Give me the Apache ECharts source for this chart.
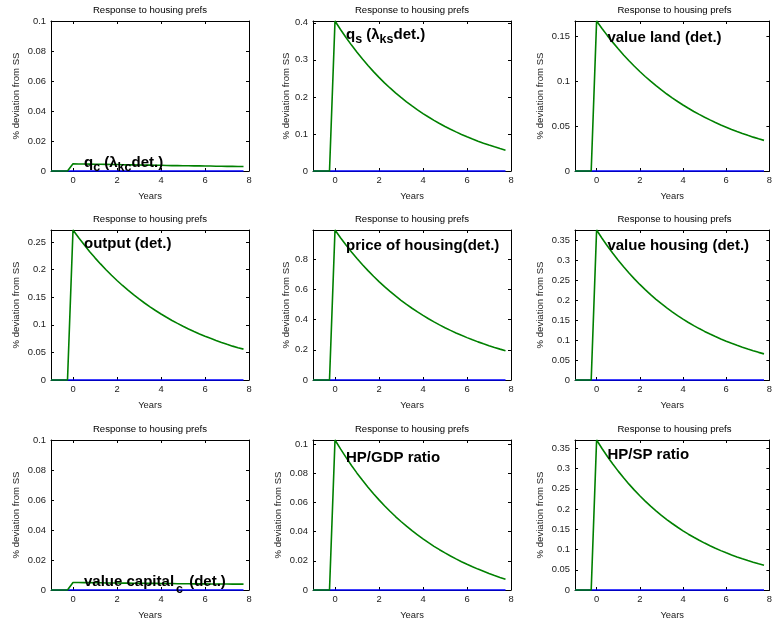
<!DOCTYPE html>
<html><head><meta charset="utf-8">
<script src="https://cdn.jsdelivr.net/npm/echarts@6.0.0/dist/echarts.min.js"></script>
<style>html,body{margin:0;padding:0;background:#fff}#c{width:775px;height:624px}</style>
</head><body><div id="c"></div>
<script>
// ---- data ----
const years = [-1,-0.75,-0.5,-0.25,0,0.25,0.5,0.75,1,1.25,1.5,1.75,2,2.25,2.5,2.75,3,3.25,3.5,3.75,4,4.25,4.5,4.75,5,5.25,5.5,5.75,6,6.25,6.5,6.75,7,7.25,7.5,7.75];
const xTicks = [0,2,4,6,8];
const titleText = 'Response to housing prefs';
const xName = 'Years';
const yName = '% deviation from SS';

const baseline = [0,0,0,0,0,0,0,0,0,0,0,0,0,0,0,0,0,0,0,0,0,0,0,0,0,0,0,0,0,0,0,0,0,0,0,0];

const qcDet = [0,0,0,0,0.0048,0.0047,0.0047,0.0046,0.0045,0.0045,0.0044,0.0043,0.0043,0.0042,0.0041,0.0041,0.0040,0.0039,0.0039,0.0038,0.0038,0.0037,0.0036,0.0036,0.0035,0.0035,0.0034,0.0034,0.0033,0.0033,0.0032,0.0032,0.0031,0.0031,0.0030,0.0030];
const qsDet = [0,0,0,0,0.405,0.3821,0.3604,0.3399,0.3205,0.3022,0.2848,0.2684,0.2528,0.2381,0.2242,0.2110,0.1986,0.1868,0.1757,0.1651,0.1551,0.1457,0.1367,0.1283,0.1203,0.1128,0.1056,0.0988,0.0924,0.0864,0.0806,0.0752,0.0701,0.0652,0.0606,0.0563];
const valueLand = [0,0,0,0,0.167,0.1587,0.1507,0.1432,0.1360,0.1292,0.1228,0.1166,0.1108,0.1052,0.1000,0.0950,0.0902,0.0857,0.0814,0.0774,0.0735,0.0698,0.0663,0.0630,0.0599,0.0569,0.0540,0.0513,0.0488,0.0463,0.0440,0.0418,0.0397,0.0377,0.0358,0.0341];
const outputDet = [0,0,0,0,0.272,0.2584,0.2455,0.2332,0.2215,0.2105,0.1999,0.1899,0.1804,0.1714,0.1628,0.1547,0.1470,0.1396,0.1327,0.1260,0.1197,0.1137,0.1080,0.1027,0.0975,0.0926,0.0880,0.0836,0.0794,0.0755,0.0717,0.0681,0.0647,0.0614,0.0584,0.0560];
const priceHousing = [0,0,0,0,0.995,0.9440,0.8955,0.8495,0.8060,0.7647,0.7254,0.6881,0.6528,0.6194,0.5875,0.5574,0.5288,0.5017,0.4759,0.4515,0.4283,0.4064,0.3856,0.3658,0.3470,0.3291,0.3123,0.2963,0.2811,0.2667,0.2529,0.2400,0.2277,0.2160,0.2049,0.1944];
const valueHousing = [0,0,0,0,0.3766,0.3560,0.3365,0.3180,0.3006,0.2841,0.2686,0.2539,0.2399,0.2268,0.2144,0.2026,0.1915,0.1810,0.1711,0.1618,0.1529,0.1445,0.1366,0.1291,0.1220,0.1154,0.1090,0.1030,0.0974,0.0921,0.0870,0.0822,0.0777,0.0735,0.0694,0.0656];
const valueCapital = [0,0,0,0,0.0050,0.0050,0.0049,0.0049,0.0048,0.0048,0.0047,0.0047,0.0047,0.0046,0.0046,0.0045,0.0045,0.0045,0.0044,0.0044,0.0043,0.0043,0.0043,0.0042,0.0042,0.0042,0.0041,0.0041,0.0041,0.0040,0.0040,0.0040,0.0040,0.0039,0.0039,0.0039];
const hpGdp = [0,0,0,0,0.1027,0.0966,0.0908,0.0852,0.0800,0.0751,0.0704,0.0659,0.0617,0.0577,0.0539,0.0503,0.0469,0.0437,0.0406,0.0378,0.0350,0.0324,0.0299,0.0276,0.0254,0.0233,0.0213,0.0194,0.0176,0.0159,0.0143,0.0128,0.0113,0.0099,0.0086,0.0074];
const hpSp = [0,0,0,0,0.3706,0.3497,0.3299,0.3113,0.2937,0.2771,0.2615,0.2467,0.2328,0.2196,0.2072,0.1955,0.1845,0.1741,0.1643,0.1550,0.1462,0.1379,0.1302,0.1228,0.1159,0.1093,0.1032,0.0973,0.0918,0.0866,0.0818,0.0772,0.0728,0.0687,0.0648,0.0612];

const panelSeries = [qcDet, qsDet, valueLand, outputDet, priceHousing, valueHousing, valueCapital, hpGdp, hpSp];
const yMaxes = [0.1, 0.405, 0.167, 0.272, 0.995, 0.3766, 0.1, 0.1027, 0.3706];
const yTicks = [
  [0,0.02,0.04,0.06,0.08,0.1],
  [0,0.1,0.2,0.3,0.4],
  [0,0.05,0.1,0.15],
  [0,0.05,0.1,0.15,0.2,0.25],
  [0,0.2,0.4,0.6,0.8],
  [0,0.05,0.1,0.15,0.2,0.25,0.3,0.35],
  [0,0.02,0.04,0.06,0.08,0.1],
  [0,0.02,0.04,0.06,0.08,0.1],
  [0,0.05,0.1,0.15,0.2,0.25,0.3,0.35]
];
const annotTexts = [
  '{m|q}{s|c}{m| (λ}{s|kc}{m|det.)}',
  '{m|q}{s|s}{m| (λ}{s|ks}{m|det.)}',
  '{m|value land (det.)}',
  '{m|output (det.)}',
  '{m|price of housing(det.)}',
  '{m|value housing (det.)}',
  '{m|value capital}{s2|c}{m| (det.)}',
  '{m|HP/GDP ratio}',
  '{m|HP/SP ratio}'
];
const annotX = [0.5,0.5,0.5,0.5,0.5,0.5,0.5,0.5,0.5];
const annotY = [0.0055, 0.367, 0.1485, 0.247, 0.89, 0.337, 0.0055, 0.0908, 0.333];

// ---- layout ----
const colLeft = [51, 313, 575];
const colWidth = [198, 198, 199];
const rowTop = [21, 230, 440];
const plotH = 150;
const FONT = '"Liberation Sans", Arial, sans-serif';

const grid = [], xAxis = [], yAxis = [], series = [], title = [];
for (let i = 0; i < 9; i++) {
  const r = Math.floor(i / 3), c = i % 3;
  grid.push({left: colLeft[c], top: rowTop[r], width: colWidth[c], height: plotH, containLabel: false});
  title.push({
    text: titleText, left: colLeft[c] + colWidth[c] / 2, top: rowTop[r] - 16, textAlign: 'center', padding: 0,
    textStyle: {fontSize: 9.6, fontWeight: 'normal', color: '#000', fontFamily: FONT}
  });
  const axLine = {show: true, lineStyle: {color: '#000', width: 1}};
  const tick = {show: true, inside: true, length: 3, lineStyle: {color: '#000'}};
  xAxis.push({
    gridIndex: i, type: 'value', min: -1, max: 8, position: 'bottom',
    axisLine: Object.assign({onZero: false}, axLine),
    axisTick: Object.assign({customValues: xTicks}, tick),
    axisLabel: {customValues: xTicks, fontSize: 9.4, color: '#1a1a1a', margin: 5, fontFamily: FONT},
    splitLine: {show: false},
    name: xName, nameLocation: 'middle', nameGap: 21,
    nameTextStyle: {fontSize: 9.4, color: '#1a1a1a', fontFamily: FONT}
  });
  xAxis.push({
    gridIndex: i, type: 'value', min: -1, max: 8, position: 'top',
    axisLine: Object.assign({onZero: false}, axLine),
    axisTick: Object.assign({customValues: xTicks}, tick),
    axisLabel: {show: false}, splitLine: {show: false}
  });
  const maxLen = Math.max.apply(null, yTicks[i].map(v => String(v).length));
  yAxis.push({
    gridIndex: i, type: 'value', min: 0, max: yMaxes[i], position: 'left',
    axisLine: Object.assign({onZero: false}, axLine),
    axisTick: Object.assign({customValues: yTicks[i]}, tick),
    axisLabel: {customValues: yTicks[i], fontSize: 9.4, color: '#1a1a1a', margin: 5, fontFamily: FONT},
    splitLine: {show: false},
    name: yName, nameLocation: 'middle', nameGap: maxLen <= 3 ? 22 : 30, nameRotate: 90,
    nameTextStyle: {fontSize: 9.6, color: '#1a1a1a', fontFamily: FONT}
  });
  yAxis.push({
    gridIndex: i, type: 'value', min: 0, max: yMaxes[i], position: 'right',
    axisLine: Object.assign({onZero: false}, axLine),
    axisTick: Object.assign({customValues: yTicks[i]}, tick),
    axisLabel: {show: false}, splitLine: {show: false}
  });
  series.push({
    type: 'line', xAxisIndex: 2 * i, yAxisIndex: 2 * i,
    data: years.map((x, k) => [x, baseline[k]]),
    showSymbol: false, symbol: 'none', clip: false, animation: false,
    lineStyle: {color: '#0000ff', width: 1.6}, z: 3
  });
  series.push({
    type: 'line', xAxisIndex: 2 * i, yAxisIndex: 2 * i,
    data: years.map((x, k) => [x, panelSeries[i][k]]),
    showSymbol: false, symbol: 'none', clip: false, animation: false,
    lineStyle: {color: '#008000', width: 1.6}, z: 4,
    markPoint: {
      symbol: 'circle', symbolSize: 0, animation: false, silent: true,
      label: {
        show: true, position: 'right', distance: 0,
        rich: {
          m: {fontSize: 15, fontWeight: 'bold', color: '#000', fontFamily: FONT},
          s: {fontSize: 12.5, fontWeight: 'bold', color: '#000', fontFamily: FONT, padding: [9, 0, 0, 0]},
          s2: {fontSize: 12.5, fontWeight: 'bold', color: '#000', fontFamily: FONT, padding: [16, 2, 0, 2]}
        }
      },
      data: [{coord: [annotX[i], annotY[i]], label: {formatter: annotTexts[i]}}]
    }
  });
}

const chart = echarts.init(document.getElementById('c'), null, {renderer: 'canvas'});
chart.setOption({animation: false, backgroundColor: '#fff', title, grid, xAxis, yAxis, series});
</script>
</body></html>
